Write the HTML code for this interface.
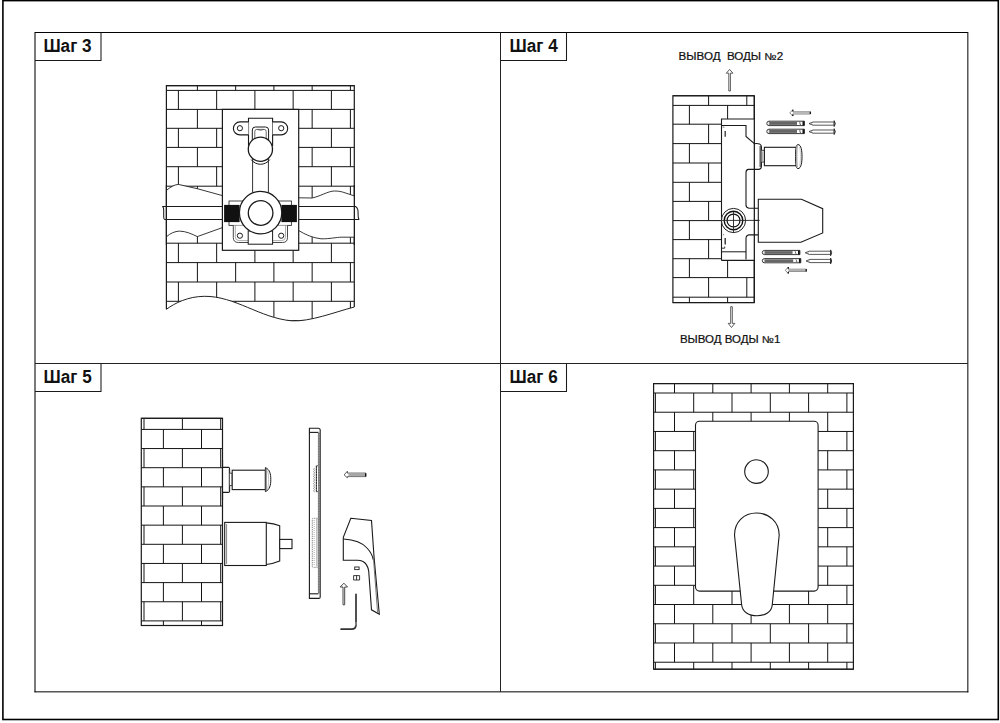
<!DOCTYPE html>
<html><head><meta charset="utf-8"><style>
html,body{margin:0;padding:0;background:#fff;width:1000px;height:723px;overflow:hidden;font-family:"Liberation Sans",sans-serif}
</style></head><body>
<svg width="1000" height="723" viewBox="0 0 1000 723" style="position:absolute;left:0;top:0">
<defs>
<clipPath id="c3"><path d="M166.4 80 H354.3 V307 C 335 312, 310 322, 291.5 320.8 C 260 318, 235 296, 204.3 296.3 C 188 296.5, 175 303, 166.4 309.3 Z"/></clipPath>
</defs>
<rect width="1000" height="723" fill="#fff"/>
<rect x="2.9" y="0.6" width="995.4" height="718.9" rx="0" fill="none" stroke="#000" stroke-width="1.6" />
<line x1="35" y1="32.5" x2="967.85" y2="32.5" stroke="#000" stroke-width="1.0" />
<line x1="35" y1="32" x2="35" y2="692.35" stroke="#000" stroke-width="1.05" />
<line x1="967.85" y1="32" x2="967.85" y2="692.35" stroke="#000" stroke-width="1.0" />
<line x1="34.5" y1="691.85" x2="968.35" y2="691.85" stroke="#000" stroke-width="1.0" />
<line x1="500.5" y1="32.5" x2="500.5" y2="691.85" stroke="#222" stroke-width="1.0" />
<line x1="35" y1="363.5" x2="967.85" y2="363.5" stroke="#222" stroke-width="1.0" />
<path d="M101 32.5 V60.5 H35" fill="none" stroke="#1a1a1a" stroke-width="1.05" />
<path d="M566.5 32.5 V60.5 H500.5" fill="none" stroke="#1a1a1a" stroke-width="1.05" />
<path d="M101 363.5 V391.4 H35" fill="none" stroke="#1a1a1a" stroke-width="1.05" />
<path d="M566.5 363.5 V391.4 H500.5" fill="none" stroke="#1a1a1a" stroke-width="1.05" />
<text x="43.4" y="52.4" font-family="Liberation Sans" font-weight="bold" font-size="18" fill="#111" textLength="48.2" lengthAdjust="spacingAndGlyphs">Шаг 3</text>
<text x="509.5" y="52.4" font-family="Liberation Sans" font-weight="bold" font-size="18" fill="#111" textLength="48.2" lengthAdjust="spacingAndGlyphs">Шаг 4</text>
<text x="43.5" y="382.6" font-family="Liberation Sans" font-weight="bold" font-size="18" fill="#111" textLength="48.2" lengthAdjust="spacingAndGlyphs">Шаг 5</text>
<text x="509.5" y="382.6" font-family="Liberation Sans" font-weight="bold" font-size="18" fill="#111" textLength="48.2" lengthAdjust="spacingAndGlyphs">Шаг 6</text>
<g clip-path="url(#c3)">
<path d="M166.4 85.7H354.3M166.4 90.4H354.3M166.4 109.4H354.3M166.4 128.3H354.3M166.4 147.4H354.3M166.4 166.7H354.3M166.4 186.2H354.3M166.4 205.3H354.3M166.4 224.3H354.3M166.4 243.2H354.3M166.4 262.6H354.3M166.4 282H354.3M166.4 301.3H354.3M166.4 320.6H354.3M197.4 85.7V90.4M235.65 85.7V90.4M273.9 85.7V90.4M312.15 85.7V90.4M350.4 85.7V90.4M178.4 90.4V109.4M216.65 90.4V109.4M254.9 90.4V109.4M293.15 90.4V109.4M331.4 90.4V109.4M197.4 109.4V128.3M235.65 109.4V128.3M273.9 109.4V128.3M312.15 109.4V128.3M350.4 109.4V128.3M178.4 128.3V147.4M216.65 128.3V147.4M254.9 128.3V147.4M293.15 128.3V147.4M331.4 128.3V147.4M197.4 147.4V166.7M235.65 147.4V166.7M273.9 147.4V166.7M312.15 147.4V166.7M350.4 147.4V166.7M178.4 166.7V186.2M216.65 166.7V186.2M254.9 166.7V186.2M293.15 166.7V186.2M331.4 166.7V186.2M197.4 186.2V205.3M235.65 186.2V205.3M273.9 186.2V205.3M312.15 186.2V205.3M350.4 186.2V205.3M178.4 205.3V224.3M216.65 205.3V224.3M254.9 205.3V224.3M293.15 205.3V224.3M331.4 205.3V224.3M197.4 224.3V243.2M235.65 224.3V243.2M273.9 224.3V243.2M312.15 224.3V243.2M350.4 224.3V243.2M178.4 243.2V262.6M216.65 243.2V262.6M254.9 243.2V262.6M293.15 243.2V262.6M331.4 243.2V262.6M197.4 262.6V282M235.65 262.6V282M273.9 262.6V282M312.15 262.6V282M350.4 262.6V282M178.4 282V301.3M216.65 282V301.3M254.9 282V301.3M293.15 282V301.3M331.4 282V301.3M197.4 301.3V320.6M235.65 301.3V320.6M273.9 301.3V320.6M312.15 301.3V320.6M350.4 301.3V320.6" fill="none" stroke="#141414" stroke-width="1.0" />
</g>
<path d="M166.4 309.3 V85.6 H354.3 V307" fill="none" stroke="#1a1a1a" stroke-width="1.2" />
<path d="M166.4 309.3 C 175 303, 188 296.5, 204.3 296.3 C 235 296, 260 318, 291.5 320.8 C 310 322, 335 312, 354.3 307" fill="none" stroke="#222" stroke-width="1.0" />
<path d="M166.9 190 C 170 187.5, 174 184.6, 178.4 184.4 L 197.3 188.7 L 222.4 195.6 V227.6 L 197.3 236.6 C 192 234, 186 231.2, 179.4 231.1 C 175 231.2, 170 233.5, 166.9 236.4 Z" fill="#fff"/>
<path d="M166.9 190 C 170 187.5, 174 184.6, 178.4 184.4 L 197.3 188.7 L 222.4 195.6" fill="none" stroke="#222" stroke-width="0.9" />
<path d="M166.9 236.4 C 170 233.5, 175 231.2, 179.4 231.1 C 186 231.2, 192 234, 197.3 236.6 L 222.4 227.6" fill="none" stroke="#222" stroke-width="0.9" />
<path d="M298.7 197.8 L 312 198 C 320 196.5, 328 191, 334.6 191 C 338 191, 341.9 191.6, 345 192.8 L 354 195.8 V237.2 L 341.9 237.2 C 336 237.2, 330 239, 321 238.8 C 313 238, 305 234.5, 298.7 230.5 Z" fill="#fff"/>
<path d="M298.7 197.8 L 312 198 C 320 196.5, 328 191, 334.6 191 C 338 191, 341.9 191.6, 345 192.8 L 354 195.8" fill="none" stroke="#222" stroke-width="0.9" />
<path d="M298.7 230.5 C 305 234.5, 313 238, 321 238.8 C 330 239, 336 237.2, 341.9 237.2 L 354 237.2" fill="none" stroke="#222" stroke-width="0.9" />
<line x1="354.3" y1="185" x2="354.3" y2="245" stroke="#1a1a1a" stroke-width="1.2" />
<line x1="166.4" y1="185" x2="166.4" y2="245" stroke="#1a1a1a" stroke-width="1.2" />
<path d="M162.2 206.5 H222.4 M164.8 219.5 H222.4 M162.2 206.5 C 163.6 206.8, 163.7 208, 163.7 210 V 217 C 163.7 218.4, 164 219.3, 164.8 219.5" fill="none" stroke="#1a1a1a" stroke-width="1.05" />
<path d="M298.7 206.5 H355.6 M298.7 219.5 H359.2 M355.6 206.5 C 357.8 208, 358.2 211, 358.1 213 C 358 216, 358.2 218.5, 359.2 219.5" fill="none" stroke="#1a1a1a" stroke-width="1.05" />
<rect x="222.4" y="109.4" width="76.3" height="140.9" rx="0" fill="#fff" stroke="#1a1a1a" stroke-width="1.2" />
<path d="M248.5 146 V118.3 H272.6 V146" fill="#fff" stroke="#1a1a1a" stroke-width="1.1" />
<path d="M248.5 121.9 H239.9 A6.5 6.5 0 0 0 239.9 134.9 H248.5" fill="#fff" stroke="#1a1a1a" stroke-width="1.1" />
<path d="M272.6 121.9 H281.2 A6.5 6.5 0 0 1 281.2 134.9 H272.6" fill="#fff" stroke="#1a1a1a" stroke-width="1.1" />
<circle cx="239.9" cy="128.2" r="2.6" fill="none" stroke="#1a1a1a" stroke-width="1.0"/>
<circle cx="281.2" cy="128.2" r="2.6" fill="none" stroke="#1a1a1a" stroke-width="1.0"/>
<path d="M252.3 141 V130 Q252.3 127 255.3 127 H265.6 Q268.6 127 268.6 130 V141" fill="none" stroke="#1a1a1a" stroke-width="1.0" />
<path d="M254.8 141 V131.5 Q254.8 129.4 256.8 129.4 H264.2 Q266.2 129.4 266.2 131.5 V141" fill="none" stroke="#444" stroke-width="0.8" />
<path d="M257 129.4 Q260.4 131.5 264 129.4" fill="none" stroke="#555" stroke-width="0.7" />
<path d="M252.6 158 V192.5 M268.4 158 V192.5" fill="none" stroke="#333" stroke-width="1.0" />
<path d="M251.2 159.6 A11.6 11.6 0 0 0 269.8 159.6" fill="none" stroke="#1a1a1a" stroke-width="1.0" />
<circle cx="260.4" cy="149.2" r="12.1" fill="#fff" stroke="#1a1a1a" stroke-width="1.3"/>
<rect x="229" y="201" width="62.4" height="24.4" rx="0" fill="#fff" stroke="#333" stroke-width="0.9" />
<path d="M233.3 225.4 V237.5 Q233.3 242.5 238.3 242.5 H282.5 Q287.5 242.5 287.5 237.5 V225.4" fill="#fff" stroke="#333" stroke-width="0.9" />
<path d="M235.3 225.4 V236.8 Q235.3 240.6 239.1 240.6 H281.7 Q285.5 240.6 285.5 236.8 V225.4" fill="none" stroke="#777" stroke-width="0.6" />
<circle cx="239.9" cy="235.7" r="2.6" fill="none" stroke="#1a1a1a" stroke-width="1.0"/>
<circle cx="281.2" cy="235.7" r="2.6" fill="none" stroke="#1a1a1a" stroke-width="1.0"/>
<rect x="248.2" y="230.9" width="24.4" height="13.3" rx="0" fill="#fff" stroke="#1a1a1a" stroke-width="1.0" />
<rect x="224.1" y="204.9" width="15.5" height="17.2" rx="0" fill="#111" stroke="#1a1a1a" stroke-width="0" />
<rect x="281.4" y="204.9" width="15.5" height="17.2" rx="0" fill="#111" stroke="#1a1a1a" stroke-width="0" />
<circle cx="260.6" cy="212.6" r="21.2" fill="#fff" stroke="#1a1a1a" stroke-width="1.3"/>
<circle cx="260.6" cy="213" r="12.3" fill="#fff" stroke="#1a1a1a" stroke-width="1.3"/>
<path d="M672.9 95.7H754.3M672.9 105.4H754.3M672.9 124.2H754.3M672.9 143.6H754.3M672.9 163H754.3M672.9 182.3H754.3M672.9 201.4H754.3M672.9 220.6H754.3M672.9 239.6H754.3M672.9 258.7H754.3M672.9 277.6H754.3M672.9 297.2H754.3M672.9 302.6H754.3M708.6 95.7V105.4M746.8 95.7V105.4M689.4 105.4V124.2M727.6 105.4V124.2M708.6 124.2V143.6M746.8 124.2V143.6M689.4 143.6V163M727.6 143.6V163M708.6 163V182.3M746.8 163V182.3M689.4 182.3V201.4M727.6 182.3V201.4M708.6 201.4V220.6M746.8 201.4V220.6M689.4 220.6V239.6M727.6 220.6V239.6M708.6 239.6V258.7M746.8 239.6V258.7M689.4 258.7V277.6M727.6 258.7V277.6M708.6 277.6V297.2M746.8 277.6V297.2M689.4 297.2V302.6M727.6 297.2V302.6" fill="none" stroke="#141414" stroke-width="1.0" />
<rect x="672.9" y="95.8" width="81.4" height="206.8" rx="0" fill="none" stroke="#1a1a1a" stroke-width="1.2" />
<text x="678.6" y="60.4" font-family="Liberation Sans" font-size="10" fill="#111" stroke="#111" stroke-width="0.2" style="white-space:pre" textLength="104.6" lengthAdjust="spacingAndGlyphs">ВЫВОД  ВОДЫ №2</text>
<text x="679.9" y="343.1" font-family="Liberation Sans" font-size="10" fill="#111" stroke="#111" stroke-width="0.2" textLength="100.6" lengthAdjust="spacingAndGlyphs">ВЫВОД ВОДЫ №1</text>
<path d="M729.6 69.4 L732.9 73.2 H730.4 V91 H728.8 V73.2 H726.3 Z" fill="#fff" stroke="#333" stroke-width="0.8" />
<path d="M731.5 327.5 L728.2 323.4 H730.7 V306.7 H732.3 V323.4 H734.8 Z" fill="#fff" stroke="#333" stroke-width="0.8" />
<rect x="721.5" y="119" width="32.8" height="141.4" rx="0" fill="#fff" stroke="#1a1a1a" stroke-width="0" />
<path d="M721.5 260.4 V119 H754.3" fill="none" stroke="#1a1a1a" stroke-width="1.1" />
<line x1="721.5" y1="260.4" x2="754.3" y2="260.4" stroke="#1a1a1a" stroke-width="1.1" />
<path d="M721.8 125.5 H746 V136.5 L754.3 143.7" fill="none" stroke="#1a1a1a" stroke-width="1.1" />
<path d="M754.3 143.7 Q757.5 143.2 759.6 143.9 Q761.4 145 761.4 147 V166.5 Q761.4 169 759 169.4 H748.5 Q746 169.6 746 172.5 V205 Q746 207.8 749 208.2 H758.3" fill="none" stroke="#1a1a1a" stroke-width="1.1" />
<rect x="759" y="146" width="1.6" height="21" rx="0" fill="#aaa" stroke="#1a1a1a" stroke-width="0" />
<line x1="761" y1="146" x2="761" y2="167" stroke="#222" stroke-width="1.2" />
<path d="M761.6 150.3 H764.4 V162 H761.6" fill="#fff" stroke="#222" stroke-width="0.9" />
<line x1="762.6" y1="151.5" x2="762.6" y2="161" stroke="#999" stroke-width="0.8" />
<rect x="764.4" y="147.3" width="32.1" height="18.4" rx="0" fill="#fff" stroke="#1a1a1a" stroke-width="1.1" />
<path d="M798 144.6 C 795.8 144.6, 795.6 150, 795.6 156.6 C 795.6 163, 795.8 168.6, 798 168.6 C 801.2 168.6, 802 162, 802 156.6 C 802 151, 801.2 144.6, 798 144.6 Z" fill="#fff" stroke="#111" stroke-width="1.0" />
<path d="M797.2 146 C 796.5 150, 796.5 163, 797.2 167.2" fill="none" stroke="#aaa" stroke-width="1.5" />
<path d="M799.5 147 C 800.8 151, 800.8 162, 799.5 166.2" fill="none" stroke="#bbb" stroke-width="0.7" />
<path d="M758.6 234.9 H749 Q746 235.2 746 238.5 V259.5" fill="none" stroke="#1a1a1a" stroke-width="1.1" />
<line x1="721.5" y1="251.8" x2="746" y2="251.8" stroke="#1a1a1a" stroke-width="1.0" />
<path d="M758.3 199.3 H801.5 L822.7 208.7 V233 L800.9 242.3 H758.3 Z" fill="#fff" stroke="#1a1a1a" stroke-width="1.1" />
<line x1="754.3" y1="220.4" x2="759.4" y2="220.4" stroke="#333" stroke-width="0.9" />
<circle cx="733.5" cy="220.5" r="12.1" fill="#fff" stroke="#222" stroke-width="1.0"/>
<circle cx="733.5" cy="220.5" r="9.3" fill="none" stroke="#111" stroke-width="1.4"/>
<circle cx="733.5" cy="220.5" r="6.45" fill="none" stroke="#111" stroke-width="1.2"/>
<path d="M721.5 220.4 H759.4 M733.5 211.5 V232.8" fill="none" stroke="#222" stroke-width="0.9" />
<path d="M725.2 130.9 V136.8" fill="none" stroke="#333" stroke-width="1.3" />
<path d="M722.6 127.1 H724.4" fill="none" stroke="#555" stroke-width="0.8" />
<path d="M725.2 238 V244.6" fill="none" stroke="#222" stroke-width="1.3" />
<path d="M721.8 248.2 H724.7 V246.6" fill="none" stroke="#333" stroke-width="1.0" />
<rect x="723.1" y="234.2" width="1" height="1" rx="0" fill="#666" stroke="#1a1a1a" stroke-width="0" />
<line x1="754.3" y1="95.8" x2="754.3" y2="302.6" stroke="#1a1a1a" stroke-width="1.2" />
<path d="M789.8 112.9 L792.8 109.7 V111.8 H810.6 V114 H792.8 V116.1 Z" fill="#fff" stroke="#555" stroke-width="0.7" />
<rect x="793.2" y="112.2" width="17.2" height="1.4" rx="0" fill="#b0b0b0" stroke="#1a1a1a" stroke-width="0" />
<line x1="810.3" y1="111.7" x2="810.3" y2="114.1" stroke="#111" stroke-width="1.2" />
<path d="M792.8 109.7 V111.3 M792.8 116.1 V114.5" fill="none" stroke="#111" stroke-width="1.2" />
<path d="M769 121.2 H804.4 V125.6 H769 Q766.8 125.6 766.8 123.4 Q766.8 121.2 769 121.2 Z" fill="#fff" stroke="#222" stroke-width="0.9" />
<rect x="769.6" y="121.9" width="27.45" height="3" rx="0" fill="#666" stroke="#1a1a1a" stroke-width="0" />
<path d="M769.3 121.2 V125.6" fill="none" stroke="#444" stroke-width="0.6" />
<path d="M803.4 121.2 V125.6" fill="none" stroke="#111" stroke-width="1.8" />
<path d="M799.2 122.2 Q801.2 122.8 800 123.4 Q799 124.2 801 124.7" fill="none" stroke="#333" stroke-width="0.7" />
<path d="M769 129.2 H804.4 V133.6 H769 Q766.8 133.6 766.8 131.4 Q766.8 129.2 769 129.2 Z" fill="#fff" stroke="#222" stroke-width="0.9" />
<rect x="769.6" y="129.9" width="27.45" height="3" rx="0" fill="#666" stroke="#1a1a1a" stroke-width="0" />
<path d="M769.3 129.2 V133.6" fill="none" stroke="#444" stroke-width="0.6" />
<path d="M803.4 129.2 V133.6" fill="none" stroke="#111" stroke-width="1.8" />
<path d="M799.2 130.2 Q801.2 130.8 800 131.4 Q799 132.2 801 132.7" fill="none" stroke="#333" stroke-width="0.7" />
<path d="M809 123.6 L813 122 H834.2 V125.2 H813 Z" fill="#fff" stroke="#222" stroke-width="0.75" />
<path d="M813 122 L811.5 123.6 L813 125.2" fill="none" stroke="#666" stroke-width="0.5" />
<path d="M834.2 120.7 Q836.4 123.6 834.2 126.5 Z" fill="#ddd" stroke="#222" stroke-width="0.9" />
<path d="M809 131.6 L813 130 H834.2 V133.2 H813 Z" fill="#fff" stroke="#222" stroke-width="0.75" />
<path d="M813 130 L811.5 131.6 L813 133.2" fill="none" stroke="#666" stroke-width="0.5" />
<path d="M834.2 128.7 Q836.4 131.6 834.2 134.5 Z" fill="#ddd" stroke="#222" stroke-width="0.9" />
<path d="M764.5 250.4 H799.9 V254.6 H764.5 Q762.3 254.6 762.3 252.5 Q762.3 250.4 764.5 250.4 Z" fill="#fff" stroke="#222" stroke-width="0.9" />
<rect x="765.1" y="251.1" width="27.45" height="2.8" rx="0" fill="#666" stroke="#1a1a1a" stroke-width="0" />
<path d="M764.8 250.4 V254.6" fill="none" stroke="#444" stroke-width="0.6" />
<path d="M798.9 250.4 V254.6" fill="none" stroke="#111" stroke-width="1.8" />
<path d="M794.7 251.4 Q796.7 252 795.5 252.5 Q794.5 253.2 796.5 253.7" fill="none" stroke="#333" stroke-width="0.7" />
<path d="M764.5 258.6 H800.8 V262.8 H764.5 Q762.3 262.8 762.3 260.7 Q762.3 258.6 764.5 258.6 Z" fill="#fff" stroke="#222" stroke-width="0.9" />
<rect x="765.1" y="259.3" width="28.11" height="2.8" rx="0" fill="#666" stroke="#1a1a1a" stroke-width="0" />
<path d="M764.8 258.6 V262.8" fill="none" stroke="#444" stroke-width="0.6" />
<path d="M799.8 258.6 V262.8" fill="none" stroke="#111" stroke-width="1.8" />
<path d="M795.6 259.6 Q797.6 260.2 796.4 260.7 Q795.4 261.4 797.4 261.9" fill="none" stroke="#333" stroke-width="0.7" />
<path d="M805.2 252.8 L809.2 251.2 H830.6 V254.4 H809.2 Z" fill="#fff" stroke="#222" stroke-width="0.75" />
<path d="M809.2 251.2 L807.7 252.8 L809.2 254.4" fill="none" stroke="#666" stroke-width="0.5" />
<path d="M830.6 249.9 Q832.8 252.8 830.6 255.7 Z" fill="#ddd" stroke="#222" stroke-width="0.9" />
<path d="M806 261 L810 259.4 H830.6 V262.6 H810 Z" fill="#fff" stroke="#222" stroke-width="0.75" />
<path d="M810 259.4 L808.5 261 L810 262.6" fill="none" stroke="#666" stroke-width="0.5" />
<path d="M830.6 258.1 Q832.8 261 830.6 263.9 Z" fill="#ddd" stroke="#222" stroke-width="0.9" />
<path d="M785.3 270.3 L788.3 267.1 V269.2 H806.5 V271.4 H788.3 V273.5 Z" fill="#fff" stroke="#555" stroke-width="0.7" />
<rect x="788.7" y="269.6" width="17.6" height="1.4" rx="0" fill="#b0b0b0" stroke="#1a1a1a" stroke-width="0" />
<line x1="806.2" y1="269.1" x2="806.2" y2="271.5" stroke="#111" stroke-width="1.2" />
<path d="M788.3 267.1 V268.7 M788.3 273.5 V271.9" fill="none" stroke="#111" stroke-width="1.2" />
<path d="M141.3 418.3H222.5M141.3 429.4H222.5M141.3 448.55H222.5M141.3 467.7H222.5M141.3 486.85H222.5M141.3 506H222.5M141.3 525.15H222.5M141.3 544.3H222.5M141.3 563.45H222.5M141.3 582.6H222.5M141.3 601.75H222.5M141.3 620.9H222.5M141.3 625.5H222.5M144 418.3V429.4M182.4 418.3V429.4M220.7 418.3V429.4M163.4 429.4V448.55M201.5 429.4V448.55M144 448.55V467.7M182.4 448.55V467.7M220.7 448.55V467.7M163.4 467.7V486.85M201.5 467.7V486.85M144 486.85V506M182.4 486.85V506M220.7 486.85V506M163.4 506V525.15M201.5 506V525.15M144 525.15V544.3M182.4 525.15V544.3M220.7 525.15V544.3M163.4 544.3V563.45M201.5 544.3V563.45M144 563.45V582.6M182.4 563.45V582.6M220.7 563.45V582.6M163.4 582.6V601.75M201.5 582.6V601.75M144 601.75V620.9M182.4 601.75V620.9M220.7 601.75V620.9M163.4 620.9V625.5M201.5 620.9V625.5" fill="none" stroke="#141414" stroke-width="1.0" />
<rect x="141.3" y="418.3" width="81.2" height="207.2" rx="0" fill="none" stroke="#1a1a1a" stroke-width="1.2" />
<path d="M222.5 467.4 H228.6 Q229.6 467.6 229.6 469 V491 Q229.6 492.4 228.4 492.4 H222.5" fill="#fff" stroke="#1a1a1a" stroke-width="1.1" />
<line x1="229.4" y1="469" x2="229.4" y2="491" stroke="#333" stroke-width="1.2" />
<path d="M229.8 473.2 H232.2 V485.6 H229.8" fill="#fff" stroke="#333" stroke-width="0.9" />
<rect x="232.2" y="470.2" width="33.2" height="19.4" rx="0" fill="#fff" stroke="#1a1a1a" stroke-width="1.1" />
<path d="M265.4 467.6 C 269.8 469.5, 270.8 474, 270.8 479.6 C 270.8 485, 269.8 489.8, 265.4 491.6 Z" fill="#fff" stroke="#1a1a1a" stroke-width="1.0" />
<path d="M265.9 468.5 V490.8" fill="none" stroke="#555" stroke-width="1.4" />
<path d="M267.2 470.5 C 269 473, 269.3 486, 267.2 488.8" fill="none" stroke="#999" stroke-width="0.6" />
<line x1="222.5" y1="460" x2="222.5" y2="500" stroke="#1a1a1a" stroke-width="1.2" />
<path d="M266.3 522.9 Q274 523.5 279.7 525.8 V561.1 Q274 563.6 266.3 564.5" fill="#fff" stroke="#1a1a1a" stroke-width="1.1" />
<rect x="224.7" y="522.4" width="41.6" height="43.1" rx="0" fill="#fff" stroke="#1a1a1a" stroke-width="1.1" />
<line x1="226.6" y1="524" x2="226.6" y2="564" stroke="#888" stroke-width="1.0" />
<rect x="279.7" y="539.4" width="12.3" height="9.2" rx="0" fill="#fff" stroke="#1a1a1a" stroke-width="1.1" />
<path d="M309.4 598.4 V428.3 H318.2 Q320.2 428.3 320.2 430.3 V597 Q320.2 598.4 318.8 598.4 Z" fill="#fff" stroke="#1a1a1a" stroke-width="1.1" />
<line x1="309.4" y1="432.4" x2="318.5" y2="432.4" stroke="#1a1a1a" stroke-width="1.1" />
<line x1="309.4" y1="593.8" x2="318.5" y2="593.8" stroke="#1a1a1a" stroke-width="1.1" />
<rect x="317.9" y="432.6" width="2.2" height="161" rx="0" fill="#8a8a8a" stroke="#1a1a1a" stroke-width="0" />
<path d="M319 433 V593.5" stroke="#555" stroke-width="0.8" stroke-dasharray="1 1.6" fill="none"/>
<path d="M318 465.8 H316.4 V491.7 H318" fill="#fff" stroke="#444" stroke-width="0.9" />
<path d="M316.4 466 V491.5" stroke="#222" stroke-width="1.0" stroke-dasharray="1.5 1.2" fill="none"/>
<path d="M314.8 468 L313.4 469.2 L314.8 470.4 L313.4 471.6 L314.8 472.8 L313.4 474 L314.8 475.2 L313.4 476.4 L314.8 477.6 L313.4 478.8 L314.8 480 L313.4 481.2 L314.8 482.4 L313.4 483.6 L314.8 484.8 L313.4 486 L314.8 487.2 L313.4 488.4 L314.8 489.6 L313.4 490.8 L314.8 492" stroke="#777" stroke-width="0.7" fill="none"/>
<path d="M317.6 518.3 H313.4 Q312.3 518.3 312.3 519.5 V566.2 Q312.3 567.3 313.4 567.3 H317.6" stroke="#555" stroke-width="0.8" stroke-dasharray="1.2 1" fill="none"/>
<path d="M314.2 520 V565.5" stroke="#888" stroke-width="0.7" stroke-dasharray="1 1" fill="none"/>
<line x1="316.9" y1="519" x2="316.9" y2="566.5" stroke="#999" stroke-width="1.0" />
<path d="M344.1 474.9 L347.4 471.2 V473.1 H365.9 V476.6 H347.4 V477.8 Z" fill="#fff" stroke="#333" stroke-width="0.8" />
<rect x="348.4" y="473.5" width="17" height="2.8" rx="0" fill="#a8a8a8" stroke="#1a1a1a" stroke-width="0" />
<line x1="365.6" y1="473.3" x2="365.6" y2="476.4" stroke="#111" stroke-width="1.2" />
<path d="M350.8 518.3 L371.5 520.4 L374 556.5 L379.3 614.2 L371.5 609.8 L368.7 571 Q367.5 564 363 561.5 Q360.5 560.2 357 560.2 H343.3 V537.4 Z" fill="#fff" stroke="#1a1a1a" stroke-width="1.1" />
<path d="M343.5 539 Q360 540 367 548 Q372.5 554 373.2 559.8" fill="none" stroke="#1a1a1a" stroke-width="1.1" />
<path d="M373.6 560 L377.6 612.8" fill="none" stroke="#555" stroke-width="0.8" />
<rect x="354.7" y="567" width="4.4" height="2.6" rx="0" fill="#fff" stroke="#222" stroke-width="0.9" />
<path d="M353.6 575.6 H359.6 V580 H353.6 Z M356.6 575.6 V580" fill="#fff" stroke="#222" stroke-width="0.9" />
<path d="M343.9 583.2 L347.5 587 H344.7 V604.8 H343 V587 H340.2 Z" fill="#fff" stroke="#333" stroke-width="0.9" />
<path d="M356 594.3 V624.5 Q356 629.2 351.5 629.2 H341.1" fill="none" stroke="#333" stroke-width="1.7" stroke-linecap="round"/>
<path d="M354.5 626.2 Q356 625 356.2 622" fill="none" stroke="#ccc" stroke-width="0.7" />
<path d="M653.6 383.6H853.4M653.6 393H853.4M653.6 412.23H853.4M653.6 431.46H853.4M653.6 450.69H853.4M653.6 469.92H853.4M653.6 489.15H853.4M653.6 508.38H853.4M653.6 527.61H853.4M653.6 546.84H853.4M653.6 566.07H853.4M653.6 585.3H853.4M653.6 604.53H853.4M653.6 623.76H853.4M653.6 642.99H853.4M653.6 662.22H853.4M653.6 669.2H853.4M674.5 383.6V393M712.8 383.6V393M751.1 383.6V393M789.4 383.6V393M827.7 383.6V393M655.4 393V412.23M693.7 393V412.23M732 393V412.23M770.3 393V412.23M808.6 393V412.23M846.9 393V412.23M674.5 412.23V431.46M712.8 412.23V431.46M751.1 412.23V431.46M789.4 412.23V431.46M827.7 412.23V431.46M655.4 431.46V450.69M693.7 431.46V450.69M732 431.46V450.69M770.3 431.46V450.69M808.6 431.46V450.69M846.9 431.46V450.69M674.5 450.69V469.92M712.8 450.69V469.92M751.1 450.69V469.92M789.4 450.69V469.92M827.7 450.69V469.92M655.4 469.92V489.15M693.7 469.92V489.15M732 469.92V489.15M770.3 469.92V489.15M808.6 469.92V489.15M846.9 469.92V489.15M674.5 489.15V508.38M712.8 489.15V508.38M751.1 489.15V508.38M789.4 489.15V508.38M827.7 489.15V508.38M655.4 508.38V527.61M693.7 508.38V527.61M732 508.38V527.61M770.3 508.38V527.61M808.6 508.38V527.61M846.9 508.38V527.61M674.5 527.61V546.84M712.8 527.61V546.84M751.1 527.61V546.84M789.4 527.61V546.84M827.7 527.61V546.84M655.4 546.84V566.07M693.7 546.84V566.07M732 546.84V566.07M770.3 546.84V566.07M808.6 546.84V566.07M846.9 546.84V566.07M674.5 566.07V585.3M712.8 566.07V585.3M751.1 566.07V585.3M789.4 566.07V585.3M827.7 566.07V585.3M655.4 585.3V604.53M693.7 585.3V604.53M732 585.3V604.53M770.3 585.3V604.53M808.6 585.3V604.53M846.9 585.3V604.53M674.5 604.53V623.76M712.8 604.53V623.76M751.1 604.53V623.76M789.4 604.53V623.76M827.7 604.53V623.76M655.4 623.76V642.99M693.7 623.76V642.99M732 623.76V642.99M770.3 623.76V642.99M808.6 623.76V642.99M846.9 623.76V642.99M674.5 642.99V662.22M712.8 642.99V662.22M751.1 642.99V662.22M789.4 642.99V662.22M827.7 642.99V662.22M655.4 662.22V669.2M693.7 662.22V669.2M732 662.22V669.2M770.3 662.22V669.2M808.6 662.22V669.2M846.9 662.22V669.2" fill="none" stroke="#141414" stroke-width="1.0" />
<rect x="653.6" y="383.6" width="199.8" height="285.6" rx="0" fill="none" stroke="#1a1a1a" stroke-width="1.2" />
<rect x="695.5" y="421.3" width="122.6" height="169.8" rx="4" fill="#fff" stroke="#1a1a1a" stroke-width="1.1" />
<circle cx="756.5" cy="471.6" r="11.8" fill="#fff" stroke="#1a1a1a" stroke-width="1.1"/>
<path d="M734.5 535 C734.5 522, 744 513, 756.5 513 C769 513, 779.2 522, 779.2 535 L772.3 604.5 C771.8 612, 765 615.8, 757 615.8 C749 615.8, 742.3 612, 741.6 604.5 Z" fill="#fff" stroke="#1a1a1a" stroke-width="1.1" />
</svg>
</body></html>
